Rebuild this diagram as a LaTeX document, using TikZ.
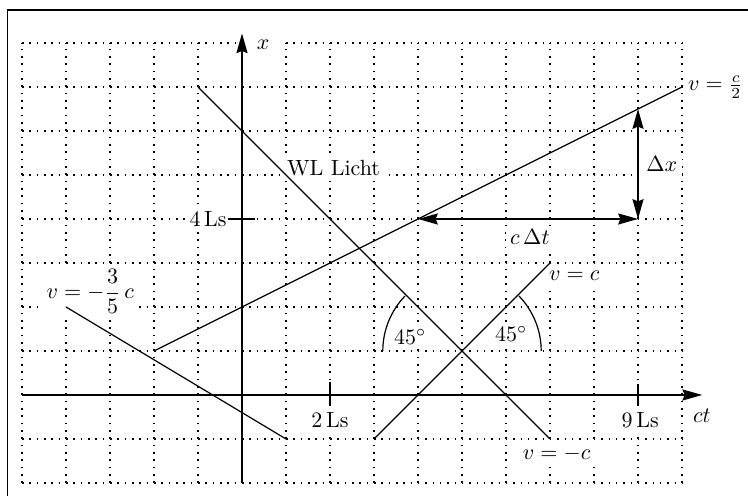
\documentclass[tikz,border=0pt]{standalone}
\usetikzlibrary{arrows.meta}
\begin{document}
\begin{tikzpicture}[x=20pt,y=20pt,
  griddot/.style={line width=0.5pt, dash pattern=on 0.7pt off 2.633pt},
  wline/.style={line width=0.55pt},
  tickmark/.style={line width=0.6pt},
  axisline/.style={line width=0.8pt, -{Stealth[length=9pt,width=5pt,inset=1pt]}},
  dimline/.style={line width=0.8pt, {Stealth[length=9pt,width=5pt,inset=1pt]}-{Stealth[length=9pt,width=5pt,inset=1pt]}},
  lbl/.style={fill=white, inner sep=2pt}]
\useasboundingbox (-5.5,-2.295) rectangle (11.5,8.977);
% frame
\draw[line width=0.6pt] (-5.33,-2.6) -- (-5.33,8.75) -- (11.7,8.75);
% grid
\draw[griddot] (-5,-2) grid[step=1] (10,8);
% coordinates
\coordinate (O) at (0,0);
\coordinate (Xlo) at (0,-2);
\coordinate (Xhi) at (0,8.22);
\coordinate (Tlo) at (-5,0);
\coordinate (Thi) at (10.46,0);
\coordinate (A1) at (-2,1);
\coordinate (A2) at (10,7);
\coordinate (B1) at (-4,2);
\coordinate (B2) at (1,-1);
\coordinate (L1) at (-1,7);
\coordinate (L2) at (7,-1);
\coordinate (C1) at (3,-1);
\coordinate (C2) at (7,3);
\coordinate (X) at (5,1);
\coordinate (P) at (4,4);
\coordinate (Q) at (9,4);
\coordinate (R) at (9,6.5);
% ticks
\draw[tickmark] (2,-0.25) -- (2,0.3);
\draw[tickmark] (9,-0.25) -- (9,0.25);
\draw[tickmark] (-0.35,4) -- (0.3,4);
% labels
\node[lbl, inner xsep=6pt] (xl) at (0.48,7.96) {$x$};
\node[lbl] (ctl) at (10.45,-0.47) {$ct$};
\node[lbl] (l2) at (2,-0.56) {2\,Ls};
\node[lbl] (l9) at (9.05,-0.57) {9\,Ls};
\node[lbl, inner xsep=0.5pt] (l4) at (-0.77,4) {4\,Ls};
\node[lbl] (wl) at (2.08,5.15) {WL Licht};
\node[lbl, inner sep=1pt] (vb) at (-3.45,2.35) {$v=-{\displaystyle\frac{3}{5}}\,c$};
\node[lbl] (vc) at (7.55,2.7) {$v=c$};
\node[lbl] (vmc) at (7.15,-1.34) {$v=-c$};
\node[lbl, inner sep=1pt] (vh) at (10.76,7.0) {$v=\frac{c}{2}$};
\node[lbl] (dx) at (9.54,5.24) {$\Delta x$};
\node[lbl] (dt) at (6.54,3.58) {$c\,\Delta t$};
\node[lbl] (a1) at (3.82,1.33) {$45^\circ$};
\node[lbl] (a2) at (6.12,1.38) {$45^\circ$};
% world lines
\draw[wline] (A1) -- (A2);
\draw[wline] (B1) -- (B2);
\draw[wline] (L1) -- (L2);
\draw[wline] (C1) -- (C2);
% angle arcs
\draw[wline] (X) ++(180:1.8) arc[start angle=180, end angle=136, radius=1.8];
\draw[wline] (X) ++(0:1.8) arc[start angle=0, end angle=44, radius=1.8];
% axes
\draw[axisline] (Xlo) -- (Xhi);
\draw[axisline] (Tlo) -- (Thi);
% dimension arrows
\draw[dimline] (P) -- (Q);
\draw[dimline] (Q) -- (R);
\end{tikzpicture}
\end{document}
